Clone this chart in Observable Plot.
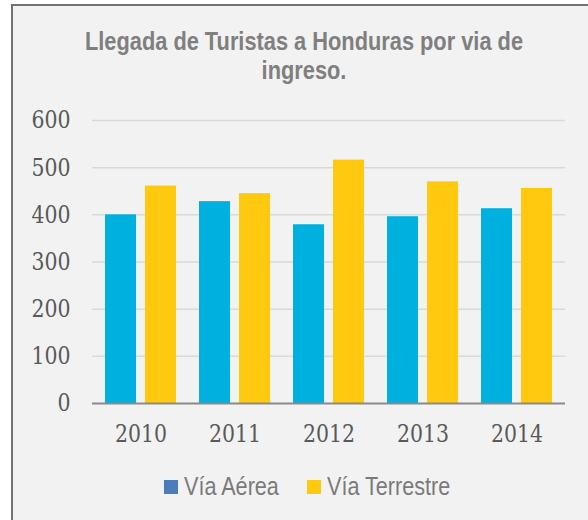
<!DOCTYPE html>
<html>
<head>
<meta charset="utf-8">
<script src="https://cdn.jsdelivr.net/npm/d3@7"></script>
<script src="https://cdn.jsdelivr.net/npm/@observablehq/plot@0.6"></script>
<style>
  html, body { margin: 0; padding: 0; background: #ffffff; width: 588px; height: 520px; overflow: hidden; }
  #frame { position: absolute; left: 11px; top: 4px; width: 640px; height: 580px; background: #F2F2F2;
           border-left: 2px solid #727272; border-top: 2px solid #727272; }
  #chart { position: absolute; left: 0; top: 0; }
  .title { position: absolute; left: 54px; top: 27px; width: 500px; text-align: center;
           font-family: "Liberation Sans", Arial, sans-serif; font-weight: bold; font-size: 21.8px;
           line-height: 24.2px; color: #7F7F7F; transform: scaleY(1.22); transform-origin: 0 0; white-space: nowrap; }
  .sw { position: absolute; width: 14px; height: 14px; top: 480px; }
  .lt { position: absolute; top: 473px; font-family: "Liberation Sans", Arial, sans-serif; font-size: 21.6px;
        line-height: 21.6px; color: #7A7A7A; transform: scaleY(1.2); transform-origin: 0 0; white-space: nowrap; }
</style>
</head>
<body>
<div id="frame"></div>
<div id="chart"></div>
<div class="title" id="title"></div>
<div id="legend"></div>
<script>
const titleLines = ["Llegada de Turistas a Honduras por via de", "ingreso."];
const years = ["2010", "2011", "2012", "2013", "2014"];
const viaAerea = [400, 428, 379, 396, 413];
const viaTerrestre = [461, 445, 516, 470, 456];
const yTicks = [0, 100, 200, 300, 400, 500, 600];
const seriesNames = ["Vía Aérea", "Vía Terrestre"];
const barColors = ["#00B1E0", "#FFC910"];
const legendColors = ["#4A7EBB", "#FFC910"];

document.getElementById("title").innerHTML = titleLines.join("<br>");

const rowsA = years.map((y, i) => ({year: y, value: viaAerea[i], serie: seriesNames[0]}));
const rowsT = years.map((y, i) => ({year: y, value: viaTerrestre[i], serie: seriesNames[1]}));

const chart = Plot.plot({
  width: 588,
  height: 460,
  marginLeft: 92,
  marginRight: 23,
  marginTop: 120,
  marginBottom: 57,
  style: {background: "none", fontFamily: "'DejaVu Serif', serif", fontSize: "20.5px", color: "#595959"},
  x: {domain: years, paddingInner: 0.24, paddingOuter: 0.12, label: null},
  y: {domain: [0, 600], label: null},
  marks: [
    Plot.gridY(yTicks.filter(d => d > 0), {stroke: "#D9D9D9", strokeOpacity: 1, strokeWidth: 1.5}),
    Plot.barY(rowsA, {x: "year", y: "value", fill: barColors[0], insetRight: 40}),
    Plot.barY(rowsT, {x: "year", y: "value", fill: barColors[1], insetLeft: 40}),
    Plot.ruleY([0], {stroke: "#8A8A8A", strokeWidth: 2}),
    Plot.axisY(yTicks, {tickSize: 0, tickPadding: 22, fontSize: 20.5, fill: "#595959", label: null}),
    Plot.axisX({tickSize: 0, tickPadding: 21.5, fontSize: 20.5, fill: "#595959", label: null})
  ]
});
document.getElementById("chart").appendChild(chart);

// mimic the vertically elongated lettering of the original picture
chart.querySelectorAll('[aria-label="x-axis tick label"] text, [aria-label="y-axis tick label"] text').forEach(t => {
  const tr = t.getAttribute("transform") || "";
  t.setAttribute("transform", tr + " scale(1,1.2)");
});

const legend = document.getElementById("legend");
const swX = [164, 307];
const txX = [184, 327];
seriesNames.forEach((name, i) => {
  const s = document.createElement("div");
  s.className = "sw";
  s.style.left = swX[i] + "px";
  s.style.background = legendColors[i];
  legend.appendChild(s);
  const t = document.createElement("div");
  t.className = "lt";
  t.style.left = txX[i] + "px";
  t.textContent = name;
  legend.appendChild(t);
});
</script>
</body>
</html>
